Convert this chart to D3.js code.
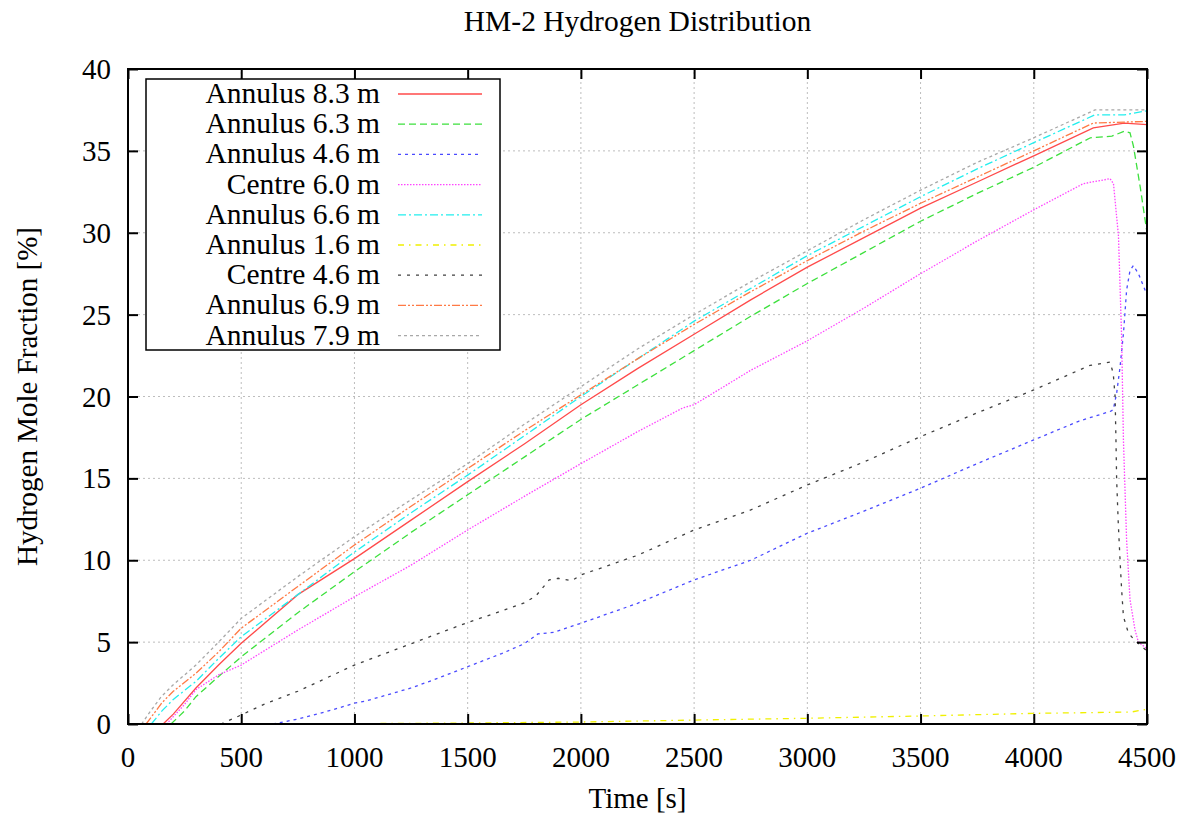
<!DOCTYPE html>
<html>
<head>
<meta charset="utf-8">
<script src="https://cdn.jsdelivr.net/npm/d3@7"></script>
<style>
  body { margin: 0; background: #fff; }
  text { font-family: "Liberation Serif", "DejaVu Serif", serif; fill: #000; }
</style>
</head>
<body>
<svg id="chart"></svg>
<script>
// size of the picture
var width = 1199;
var height = 817;
var margin = {left: 128, right: 52, top: 69, bottom: 93};

// tick values for both axes
var xTicks = [0, 500, 1000, 1500, 2000, 2500, 3000, 3500, 4000, 4500];
var yTicks = [0, 5, 10, 15, 20, 25, 30, 35, 40];

// series: [time s, mole fraction %]
var annulus83 = [[155,0],[200,0.6],[300,2.2],[400,3.6],[500,4.93],[750,7.9],[1000,10.1],[1250,12.45],[1500,14.8],[1750,17.1],[2000,19.5],[2250,21.7],[2500,23.8],[2750,25.9],[3000,27.9],[3250,29.7],[3500,31.5],[3750,33.1],[4000,34.7],[4263,36.4],[4400,36.7],[4500,36.6]];
var annulus63 = [[190,0],[250,0.8],[300,1.67],[400,2.9],[500,4.1],[750,6.8],[1000,9.3],[1250,11.7],[1500,14.0],[1750,16.3],[2000,18.6],[2250,20.7],[2500,22.8],[2750,24.9],[3000,26.9],[3250,28.8],[3500,30.7],[3750,32.4],[4000,34.0],[4250,35.8],[4345,35.9],[4400,36.2],[4425,36.1],[4440,35.3],[4470,32.8],[4500,30.0]];
var annulus46 = [[640,0],[750,0.3],[900,0.85],[1000,1.27],[1050,1.4],[1250,2.2],[1350,2.7],[1500,3.5],[1650,4.3],[1750,4.9],[1810,5.5],[1880,5.6],[2000,6.15],[2250,7.37],[2500,8.8],[2750,10.0],[3000,11.65],[3250,13.0],[3500,14.4],[3750,15.9],[4000,17.35],[4200,18.5],[4340,19.1],[4351,19.2],[4366,20.2],[4381,21.8],[4396,23.85],[4410,26.5],[4425,27.7],[4440,28.0],[4462,27.5],[4500,26.2]];
var centre60 = [[170,0],[250,1.2],[300,2.1],[400,3.0],[500,3.6],[750,5.74],[1000,7.77],[1250,9.7],[1500,11.85],[1750,13.9],[2000,15.9],[2250,17.85],[2450,19.3],[2500,19.5],[2750,21.6],[3000,23.4],[3250,25.4],[3500,27.5],[3750,29.5],[4000,31.4],[4219,33.0],[4337,33.3],[4352,33.0],[4374,29.8],[4388,23.6],[4396,17.3],[4410,11.2],[4425,7.6],[4447,5.75],[4462,5.0],[4500,4.6]];
var annulus66 = [[103,0],[150,0.8],[200,1.5],[300,2.6],[400,4.0],[500,5.33],[750,7.9],[1000,10.5],[1250,12.9],[1500,15.2],[1750,17.6],[2000,20.0],[2250,22.3],[2500,24.6],[2750,26.6],[3000,28.6],[3250,30.4],[3500,32.2],[3750,33.9],[4000,35.5],[4270,37.2],[4350,37.2],[4400,37.2],[4500,37.45]];
var annulus16 = [[960,0],[1000,0.02],[1500,0.06],[2000,0.12],[2500,0.24],[3000,0.35],[3500,0.49],[4000,0.65],[4430,0.73],[4500,0.9]];
var centre46 = [[410,0],[500,0.55],[600,1.2],[750,2.0],[1000,3.6],[1250,4.9],[1500,6.2],[1650,6.9],[1750,7.4],[1800,7.8],[1860,8.8],[1900,8.9],[1960,8.75],[2000,9.1],[2250,10.3],[2500,11.85],[2750,13.07],[3000,14.6],[3250,16.0],[3500,17.55],[3750,19.0],[4000,20.4],[4248,21.9],[4337,22.1],[4351,21.4],[4359,20.0],[4363,17.3],[4366,14.9],[4373,12.3],[4381,10.0],[4388,8.2],[4396,6.55],[4418,5.55],[4447,5.1],[4500,4.45]];
var annulus69 = [[80,0],[150,1.3],[200,2.0],[300,3.1],[400,4.4],[500,5.85],[750,8.4],[1000,10.93],[1250,13.3],[1500,15.6],[1750,17.9],[2000,20.1],[2250,22.3],[2500,24.4],[2750,26.4],[3000,28.3],[3250,30.1],[3500,31.8],[3750,33.4],[4000,35.0],[4263,36.7],[4500,36.8]];
var annulus79 = [[60,0],[100,0.8],[147,1.67],[200,2.4],[300,3.6],[400,5.0],[500,6.45],[750,9.0],[1000,11.44],[1250,13.7],[1500,15.9],[1750,18.3],[2000,20.6],[2250,22.9],[2500,25.0],[2750,27.0],[3000,28.9],[3250,30.8],[3500,32.6],[3750,34.3],[4000,35.8],[4270,37.5],[4500,37.5]];

var seriesNames = ["Annulus 8.3 m", "Annulus 6.3 m", "Annulus 4.6 m", "Centre 6.0 m", "Annulus 6.6 m",
                   "Annulus 1.6 m", "Centre 4.6 m", "Annulus 6.9 m", "Annulus 7.9 m"];
var seriesData = [annulus83, annulus63, annulus46, centre60, annulus66, annulus16, centre46, annulus69, annulus79];

// gnuplot-like colours and dash types
var colors = ["#ff4a4a", "#3de03d", "#4a4aff", "#ff44ff", "#22eeee", "#f0f000", "#404040", "#ff7a45", "#a8a8a8"];
var dashes = ["none", "7,4", "3,4", "1.5,1.5", "8,3,2,3", "6,5,1.5,5", "3,6", "8,2,2,2,2,2", "3,3"];

var svg = d3.select("#chart")
    .attr("width", width)
    .attr("height", height);

var x = d3.scaleLinear()
    .domain([0, 4500])
    .range([margin.left, width - margin.right]);

var y = d3.scaleLinear()
    .domain([0, 40])
    .range([height - margin.bottom, margin.top]);

// grid
var grid = svg.append("g").attr("class", "grid");
grid.selectAll(".gx")
    .data(xTicks.slice(1, -1))
    .enter().append("line")
    .attr("x1", function(d) { return x(d); })
    .attr("x2", function(d) { return x(d); })
    .attr("y1", y(0))
    .attr("y2", y(40))
    .style("stroke", "#bdbdbd")
    .style("stroke-width", 1)
    .style("stroke-dasharray", "2,3");
grid.selectAll(".gy")
    .data(yTicks.slice(1, -1))
    .enter().append("line")
    .attr("x1", x(0))
    .attr("x2", x(4500))
    .attr("y1", function(d) { return y(d); })
    .attr("y2", function(d) { return y(d); })
    .style("stroke", "#bdbdbd")
    .style("stroke-width", 1)
    .style("stroke-dasharray", "2,3");

// curves
var line = d3.line()
    .x(function(d) { return x(d[0]); })
    .y(function(d) { return y(d[1]); });

svg.append("g").attr("class", "curves")
    .selectAll("path")
    .data(seriesData)
    .enter().append("path")
    .attr("d", line)
    .style("fill", "none")
    .style("stroke", function(d, i) { return colors[i]; })
    .style("stroke-width", 1.3)
    .style("stroke-dasharray", function(d, i) { return dashes[i]; });

// axes with inward ticks on all four sides
var tickLen = 10;
svg.append("g").attr("transform", "translate(0," + y(0) + ")")
    .call(d3.axisBottom(x).tickValues(xTicks).tickSize(-tickLen).tickFormat(""))
    .call(function(g) { g.select(".domain").remove(); });
svg.append("g").attr("transform", "translate(0," + y(40) + ")")
    .call(d3.axisTop(x).tickValues(xTicks).tickSize(-tickLen).tickFormat(""))
    .call(function(g) { g.select(".domain").remove(); });
svg.append("g").attr("transform", "translate(" + x(0) + ",0)")
    .call(d3.axisLeft(y).tickValues(yTicks).tickSize(-tickLen).tickFormat(""))
    .call(function(g) { g.select(".domain").remove(); });
svg.append("g").attr("transform", "translate(" + x(4500) + ",0)")
    .call(d3.axisRight(y).tickValues(yTicks).tickSize(-tickLen).tickFormat(""))
    .call(function(g) { g.select(".domain").remove(); });
svg.selectAll(".tick line").style("stroke", "#000").style("stroke-width", 2);

// tick labels
svg.append("g").selectAll("text")
    .data(xTicks)
    .enter().append("text")
    .attr("x", function(d) { return x(d); })
    .attr("y", y(0) + 43)
    .attr("text-anchor", "middle")
    .style("font-size", "29px")
    .text(function(d) { return d; });
svg.append("g").selectAll("text")
    .data(yTicks)
    .enter().append("text")
    .attr("x", x(0) - 17)
    .attr("y", function(d) { return y(d) + 10; })
    .attr("text-anchor", "end")
    .style("font-size", "29px")
    .text(function(d) { return d; });

// frame
svg.append("rect")
    .attr("x", x(0))
    .attr("y", y(40))
    .attr("width", x(4500) - x(0))
    .attr("height", y(0) - y(40))
    .style("fill", "none")
    .style("stroke", "#000")
    .style("stroke-width", 2);

// legend
var legend = svg.append("g").attr("class", "key");
legend.append("rect")
    .attr("x", 146)
    .attr("y", 79)
    .attr("width", 354)
    .attr("height", 271)
    .style("fill", "#fff")
    .style("stroke", "#000")
    .style("stroke-width", 1.5);

var rows = legend.selectAll(".row")
    .data(seriesNames)
    .enter().append("g")
    .attr("transform", function(d, i) { return "translate(0," + (94 + i * 30.2) + ")"; });
rows.append("text")
    .attr("x", 380)
    .attr("y", 9)
    .attr("text-anchor", "end")
    .style("font-size", "29.5px")
    .text(function(d) { return d; });
rows.append("line")
    .attr("x1", 398)
    .attr("x2", 482)
    .attr("y1", 0)
    .attr("y2", 0)
    .style("stroke", function(d, i) { return colors[i]; })
    .style("stroke-width", 1.3)
    .style("stroke-dasharray", function(d, i) { return dashes[i]; });

// titles
svg.append("text")
    .attr("x", (x(0) + x(4500)) / 2)
    .attr("y", 31)
    .attr("text-anchor", "middle")
    .style("font-size", "29.5px")
    .text("HM-2 Hydrogen Distribution");

svg.append("text")
    .attr("x", (x(0) + x(4500)) / 2)
    .attr("y", 808)
    .attr("text-anchor", "middle")
    .style("font-size", "29px")
    .text("Time [s]");

svg.append("text")
    .attr("transform", "translate(37," + ((y(0) + y(40)) / 2) + ") rotate(-90)")
    .attr("text-anchor", "middle")
    .style("font-size", "29px")
    .text("Hydrogen Mole Fraction [%]");
</script>
</body>
</html>
